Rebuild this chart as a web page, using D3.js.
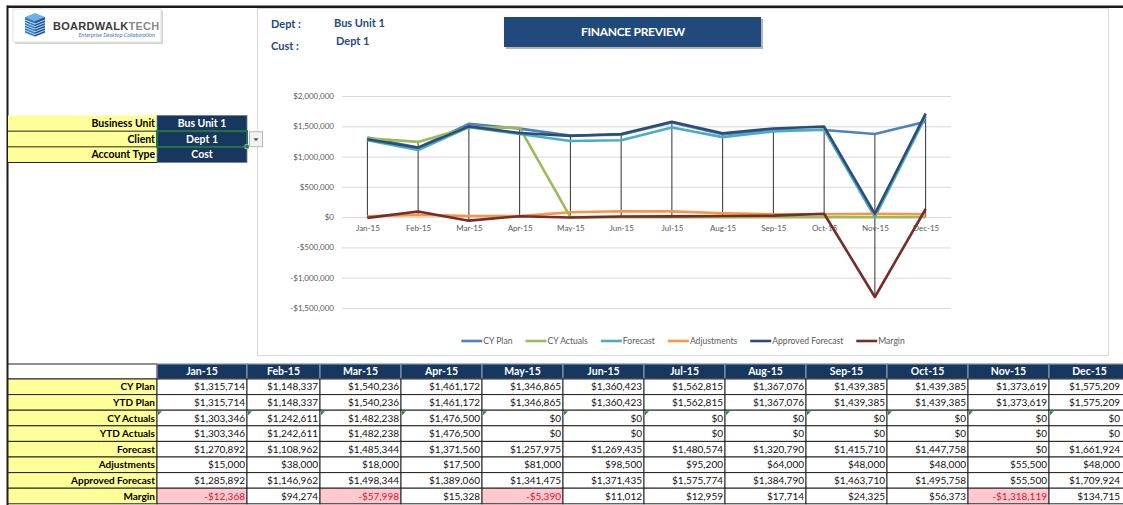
<!DOCTYPE html>
<html>
<head>
<meta charset="utf-8">
<script src="https://cdn.jsdelivr.net/npm/d3@7"></script>
<style>
	body { margin: 0; background: #fff; overflow: hidden; }
	svg text { font-family: Lato, "Open Sans", sans-serif; }
</style>
</head>
<body>
<div class="finance-preview"></div>
<script>

// data
const months = ["Jan-15", "Feb-15", "Mar-15", "Apr-15", "May-15", "Jun-15", "Jul-15", "Aug-15", "Sep-15", "Oct-15", "Nov-15", "Dec-15"];
const cyPlan = [1315714, 1148337, 1540236, 1461172, 1346865, 1360423, 1562815, 1367076, 1439385, 1439385, 1373619, 1575209];
const ytdPlan = [1315714, 1148337, 1540236, 1461172, 1346865, 1360423, 1562815, 1367076, 1439385, 1439385, 1373619, 1575209];
const cyActuals = [1303346, 1242611, 1482238, 1476500, 0, 0, 0, 0, 0, 0, 0, 0];
const ytdActuals = [1303346, 1242611, 1482238, 1476500, 0, 0, 0, 0, 0, 0, 0, 0];
const forecast = [1270892, 1108962, 1485344, 1371560, 1257975, 1269435, 1480574, 1320790, 1415710, 1447758, 0, 1661924];
const adjustments = [15000, 38000, 18000, 17500, 81000, 98500, 95200, 64000, 48000, 48000, 55500, 48000];
const approvedForecast = [1285892, 1146962, 1498344, 1389060, 1341475, 1371435, 1575774, 1384790, 1463710, 1495758, 55500, 1709924];
const margin = [-12368, 94274, -57998, 15328, -5390, 11012, 12959, 17714, 24325, 56373, -1318119, 134715];

const yTicks = [-1500000, -1000000, -500000, 0, 500000, 1000000, 1500000, 2000000];

const panelLabels = ["Business Unit", "Client", "Account Type"];
const panelValues = ["Bus Unit 1", "Dept 1", "Cost"];

const chartSeries = [
	{ name: "CY Plan", values: cyPlan, color: "#4f81bd" },
	{ name: "CY Actuals", values: cyActuals, color: "#9bbb59" },
	{ name: "Forecast", values: forecast, color: "#4bacc6" },
	{ name: "Adjustments", values: adjustments, color: "#f79646" },
	{ name: "Approved Forecast", values: approvedForecast, color: "#2c4d75" },
	{ name: "Margin", values: margin, color: "#772c2a" }
];

const tableRows = [
	{ name: "CY Plan", values: cyPlan },
	{ name: "YTD Plan", values: ytdPlan },
	{ name: "CY Actuals", values: cyActuals, flag: true },
	{ name: "YTD Actuals", values: ytdActuals },
	{ name: "Forecast", values: forecast },
	{ name: "Adjustments", values: adjustments },
	{ name: "Approved Forecast", values: approvedForecast },
	{ name: "Margin", values: margin, highlight: true }
];

const width = 1123;
const height = 505;
const navy = "#17375e";
const yellow = "#ffff99";

const fmtMoney = (v) => (v < 0 ? "-$" : "$") + d3.format(",")(Math.abs(v));

const svg = d3.select(".finance-preview").append("svg")
	.attr("width", width)
	.attr("height", height);

// chart panel
svg.append("rect")
	.attr("x", 257.5).attr("y", 8.5)
	.attr("width", 851).attr("height", 347)
	.attr("fill", "#fff")
	.attr("stroke", "#d9d9d9");

// sheet frame
svg.append("rect").attr("x", 7).attr("y", 5.5).attr("width", width).attr("height", 2.5).attr("fill", "#1a1a1a");
svg.append("rect").attr("x", 6.5).attr("y", 5.5).attr("width", 2).attr("height", height).attr("fill", "#1a1a1a");

// logo
const logo = svg.append("g").attr("class", "logo");
logo.append("rect").attr("x", 15).attr("y", 11).attr("width", 148).attr("height", 33).attr("fill", "#d4d4d4");
logo.append("rect").attr("x", 13).attr("y", 9).attr("width", 148).attr("height", 33).attr("fill", "#fff").attr("stroke", "#e2e2e2");
logo.append("polygon").attr("points", "35,13 45,17 35,21 25,17").attr("fill", "#6fb0e6");
logo.append("polygon").attr("points", "25,17 35,21 35,37 25,33").attr("fill", "#2f7cc4");
logo.append("polygon").attr("points", "35,21 45,17 45,33 35,37").attr("fill", "#1d5a97");
logo.selectAll(".stripe")
	.data(d3.range(6)).enter()
	.append("path")
		.attr("class", "stripe")
		.attr("d", (d) => `M25,${20 + d * 2.6} L35,${24 + d * 2.6} L45,${20 + d * 2.6}`)
		.attr("fill", "none")
		.attr("stroke", "#fff")
		.attr("stroke-width", 0.7);
const logoText = logo.append("text")
	.attr("x", 53).attr("y", 30)
	.style("font-family", "'Liberation Sans', Arial, sans-serif")
	.style("font-size", "11px")
	.style("font-weight", "900")
	.style("letter-spacing", "0.3px");
logoText.append("tspan").attr("fill", "#3a3a3a").text("BOARDWALK");
logoText.append("tspan").attr("fill", "#8a8a8a").text("TECH");
logo.append("text")
	.attr("x", 155).attr("y", 37)
	.attr("text-anchor", "end")
	.attr("fill", "#3d78b8")
	.style("font-size", "5.6px")
	.style("font-style", "italic")
	.text("Enterprise Desktop Collaboration");

// header texts
const hdr = svg.append("g")
	.style("font-family", "'Liberation Sans', Arial, sans-serif")
	.style("font-weight", "bold")
	.style("font-size", "11px")
	.attr("fill", "#1f497d");
hdr.append("text").attr("x", 271).attr("y", 28).text("Dept :");
hdr.append("text").attr("x", 271).attr("y", 50).text("Cust :");
hdr.append("text").attr("x", 334).attr("y", 27).text("Bus Unit 1");
hdr.append("text").attr("x", 336).attr("y", 45).text("Dept 1");

svg.append("rect").attr("x", 506).attr("y", 19).attr("width", 257).attr("height", 30).attr("fill", "#b5b5b5");
svg.append("rect").attr("x", 504).attr("y", 17).attr("width", 257).attr("height", 30).attr("fill", "#214a7c");
svg.append("text")
	.attr("x", 633).attr("y", 36)
	.attr("text-anchor", "middle")
	.attr("fill", "#fff")
	.style("font-size", "12px")
	.style("font-weight", "bold")
	.style("letter-spacing", "-0.3px")
	.text("FINANCE PREVIEW");

// selection panel
const rowY = d3.scaleBand().domain(panelLabels).range([115.5, 162.5]);
const panel = svg.append("g").attr("class", "panel");
panel.selectAll(".plabel")
	.data(panelLabels).enter()
	.append("rect")
		.attr("x", 8).attr("y", (d) => rowY(d))
		.attr("width", 149).attr("height", rowY.bandwidth())
		.attr("fill", yellow);
panel.selectAll(".pvalue")
	.data(panelValues).enter()
	.append("rect")
		.attr("x", 157).attr("y", (d, i) => rowY(panelLabels[i]))
		.attr("width", 90).attr("height", rowY.bandwidth())
		.attr("fill", navy)
		.attr("stroke", "#6d7f98")
		.attr("stroke-width", 0.8);
panel.selectAll(".pline")
	.data(panelLabels).enter()
	.append("line")
		.attr("x1", 8).attr("x2", 157)
		.attr("y1", (d) => rowY(d) + rowY.bandwidth())
		.attr("y2", (d) => rowY(d) + rowY.bandwidth())
		.attr("stroke", "#222");
panel.selectAll(".ptext")
	.data(panelLabels).enter()
	.append("text")
		.attr("x", 155).attr("y", (d) => rowY(d) + rowY.bandwidth() / 2)
		.attr("dy", "0.35em")
		.attr("text-anchor", "end")
		.style("font-size", "10.5px")
		.style("font-weight", "bold")
		.text((d) => d);
panel.selectAll(".pvtext")
	.data(panelValues).enter()
	.append("text")
		.attr("x", 202).attr("y", (d, i) => rowY(panelLabels[i]) + rowY.bandwidth() / 2)
		.attr("dy", "0.35em")
		.attr("text-anchor", "middle")
		.attr("fill", "#fff")
		.style("font-size", "10.5px")
		.style("font-weight", "bold")
		.text((d) => d);
// active cell + dropdown
panel.append("rect")
	.attr("x", 157).attr("y", rowY("Client"))
	.attr("width", 90).attr("height", rowY.bandwidth())
	.attr("fill", "none").attr("stroke", "#217346").attr("stroke-width", 2);
panel.append("rect")
	.attr("x", 245).attr("y", rowY("Client") + rowY.bandwidth() - 2)
	.attr("width", 4).attr("height", 4).attr("fill", "#217346").attr("stroke", "#fff").attr("stroke-width", 0.5);
panel.append("rect")
	.attr("x", 249.5).attr("y", rowY("Client") + 0.5)
	.attr("width", 13).attr("height", 15)
	.attr("fill", "#f2f2f2").attr("stroke", "#b8b8b8");
panel.append("path")
	.attr("d", `M253.5,${rowY("Client") + 7} l5,0 l-2.5,3 z`)
	.attr("fill", "#555");

// chart
const x = d3.scalePoint().domain(months).range([342, 951]).padding(0.5);
const y = d3.scaleLinear().domain([-1500000, 2000000]).range([308, 96]);

const chart = svg.append("g").attr("class", "chart");

const yAxis = d3.axisLeft(y)
	.tickValues(yTicks)
	.tickSize(-(951 - 342))
	.tickPadding(8)
	.tickFormat(fmtMoney);
chart.append("g")
	.attr("transform", "translate(342, 0)")
	.call(yAxis)
	.call((g) => g.select(".domain").remove())
	.call((g) => g.selectAll("line").attr("stroke", "#d9d9d9"))
	.call((g) => g.selectAll("text").attr("fill", "#595959").style("font-size", "8px").style("font-family", "Lato, sans-serif"));

// high-low lines
chart.append("g")
	.selectAll("line")
		.data(months).enter()
	.append("line")
		.attr("x1", (d) => x(d)).attr("x2", (d) => x(d))
		.attr("y1", (d, i) => y(d3.max(chartSeries, (s) => s.values[i])))
		.attr("y2", (d, i) => y(d3.min(chartSeries, (s) => s.values[i])))
		.attr("stroke", "#1a1a1a")
		.attr("stroke-width", 0.9);

const xAxis = d3.axisBottom(x).tickSize(0).tickPadding(8);
chart.append("g")
	.attr("transform", `translate(0, ${y(0)})`)
	.call(xAxis)
	.call((g) => g.select(".domain").remove())
	.call((g) => g.selectAll("text").attr("fill", "#595959").style("font-size", "8px").style("font-family", "Lato, sans-serif"));

const line = d3.line()
	.x((d, i) => x(months[i]))
	.y((d) => y(d));

chart.append("g")
	.selectAll("path")
		.data(chartSeries).enter()
	.append("path")
		.attr("d", (d) => line(d.values))
		.attr("fill", "none")
		.attr("stroke", (d) => d.color)
		.attr("stroke-width", 2.6)
		.attr("stroke-linejoin", "round");

// legend
const legend = chart.append("g").attr("class", "legend");
const items = legend.selectAll(".item")
	.data(chartSeries).enter()
	.append("g");
items.append("line")
	.attr("x1", 0).attr("x2", 21)
	.attr("stroke", (d) => d.color)
	.attr("stroke-width", 2.6);
items.append("text")
	.attr("x", 22).attr("dy", "0.35em")
	.attr("fill", "#595959")
	.style("font-size", "8.6px")
	.text((d) => d.name);
let cursor = 0;
const offsets = [];
items.each(function() {
	offsets.push(cursor);
	cursor += 22 + this.querySelector("text").getComputedTextLength() + 13;
});
const legendStart = 683 - (cursor - 13) / 2;
items.attr("transform", (d, i) => `translate(${legendStart + offsets[i]}, 341)`);

// table
const colW = [90, 73, 81, 81, 81, 81, 81, 81, 81, 81, 81, 81];
const colX = colW.map((w, i) => 157 + d3.sum(colW.slice(0, i)));
const textRight = (i) => Math.min(colX[i] + colW[i] - 2, width - 3);
const headTop = 364;
const rowH = 15.6;
const tRowY = d3.scaleBand().domain(tableRows.map((d) => d.name)).range([headTop + 15, headTop + 15 + rowH * tableRows.length]);

const table = svg.append("g").attr("class", "table");

table.append("rect")
	.attr("x", 8).attr("y", headTop).attr("width", 149).attr("height", 15)
	.attr("fill", "#fff").attr("stroke", "#222");
table.selectAll(".head")
	.data(months).enter()
	.append("rect")
		.attr("x", (d, i) => colX[i]).attr("y", headTop)
		.attr("width", (d, i) => colW[i]).attr("height", 15)
		.attr("fill", navy)
		.attr("stroke", "#8593a8")
		.attr("stroke-width", 1.2);
table.selectAll(".headtext")
	.data(months).enter()
	.append("text")
		.attr("x", (d, i) => colX[i] + colW[i] / 2).attr("y", headTop + 7.5)
		.attr("dy", "0.36em")
		.attr("text-anchor", "middle")
		.attr("fill", "#fff")
		.style("font-size", "10.5px")
		.style("font-weight", "bold")
		.text((d) => d);

const rows = table.selectAll(".row")
	.data(tableRows).enter()
	.append("g")
		.attr("transform", (d) => `translate(0, ${tRowY(d.name)})`);

rows.append("rect")
	.attr("x", 8).attr("width", 149).attr("height", rowH)
	.attr("fill", yellow).attr("stroke", "#222");
rows.append("text")
	.attr("x", 155).attr("y", rowH / 2).attr("dy", "0.36em")
	.attr("text-anchor", "end")
	.style("font-size", "10px")
	.style("font-weight", "bold")
	.text((d) => d.name);

const cells = rows.selectAll(".cell")
	.data((r) => r.values.map((v, i) => ({ v, i, r }))).enter()
	.append("g");
cells.append("rect")
	.attr("x", (d) => colX[d.i]).attr("width", (d) => colW[d.i]).attr("height", rowH)
	.attr("fill", (d) => d.r.highlight && d.v < 0 ? "#ffc7ce" : "#fff")
	.attr("stroke", "#222");
cells.append("text")
	.attr("x", (d) => textRight(d.i)).attr("y", rowH / 2).attr("dy", "0.36em")
	.attr("text-anchor", "end")
	.attr("fill", (d) => d.r.highlight && d.v < 0 ? "#d0202e" : "#111")
	.style("font-size", "10px")
	.text((d) => fmtMoney(d.v));
cells.filter((d) => d.r.flag)
	.append("path")
		.attr("d", (d) => `M${colX[d.i] + 1},1 l4,0 l-4,4 z`)
		.attr("fill", "#1e8a3a");

</script>
</body>
</html>
